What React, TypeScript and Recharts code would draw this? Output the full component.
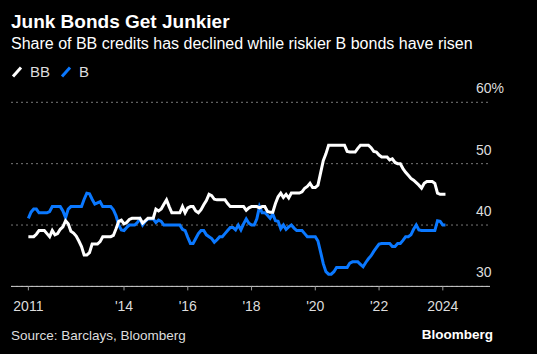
import React from "react";
import { LineChart, Line, XAxis, YAxis, CartesianGrid } from "recharts";

// Monthly share (%) of the high-yield index, Jan 2011 onward
const START_YEAR = 2011;
const bbShare = [
  38.1, 38.1, 38.1, 38.5, 39.1, 39.1, 39.1, 38.6, 38.1, 39.1,
  38.4, 38.6, 39.3, 39.7, 40.7, 40.2, 39.0, 38.7, 38.2, 37.4,
  36.5, 35.1, 35.1, 35.5, 36.9, 36.9, 36.9, 37.3, 38.1, 38.1,
  38.1, 38.1, 38.3, 39.4, 40.6, 40.8, 40.2, 40.4, 40.9, 41.1,
  41.1, 41.1, 41.1, 40.3, 40.7, 41.1, 41.1, 41.1, 42.6, 42.3,
  42.6, 43.4, 44.1, 43.0, 42.0, 42.0, 42.0, 42.0, 43.0, 42.0,
  42.8, 43.0, 43.0, 42.3, 42.0, 42.5, 43.3, 44.0, 45.0, 44.8,
  44.2, 44.1, 44.1, 44.1, 44.1, 43.5, 43.0, 43.0, 43.0, 43.0,
  43.0, 43.0, 42.4, 42.8, 43.0, 43.0, 43.0, 42.8, 43.0, 43.0,
  42.2, 42.1, 42.1, 43.5, 44.6, 45.2, 44.5, 45.0, 44.4, 45.2,
  45.2, 45.2, 45.2, 45.4, 46.0, 46.3, 46.8, 46.1, 46.1, 46.5,
  48.5, 50.5, 51.6, 53.0, 53.0, 53.0, 53.0, 53.0, 53.0, 53.0,
  52.0, 51.9, 51.9, 51.9, 52.5, 53.0, 53.0, 53.0, 53.0, 52.6,
  52.0, 51.9, 51.4, 51.1, 51.1, 51.1, 50.6, 50.8, 50.2, 50.0,
  50.0, 49.2, 48.6, 48.1, 47.6, 47.3, 46.9, 46.5, 46.0, 46.8,
  47.1, 47.1, 47.1, 46.8, 45.2, 45.0, 45.0, 45.0,
];
const bShare = [
  41.1, 42.1, 42.6, 42.6, 42.0, 42.0, 42.0, 42.0, 42.2, 43.0,
  43.0, 43.0, 43.0, 42.3, 41.2, 42.6, 43.0, 43.0, 43.0, 43.0,
  43.0, 44.2, 45.2, 45.1, 44.2, 43.4, 43.6, 43.8, 43.0, 43.0,
  43.0, 43.0, 42.5, 41.5, 40.0, 39.2, 39.1, 39.6, 40.0, 40.0,
  40.0, 40.4, 41.0, 40.0, 40.6, 41.0, 41.0, 41.0, 40.4, 40.8,
  40.6, 40.0, 40.0, 40.0, 40.0, 40.0, 40.0, 40.0, 39.3, 39.1,
  38.0, 37.0, 37.0, 37.8, 38.6, 39.1, 39.1, 38.4, 38.1, 37.8,
  37.2, 37.6, 38.1, 38.1, 38.6, 39.1, 39.6, 39.6, 39.2, 40.0,
  39.2, 40.2, 41.0, 40.3, 40.0, 40.0, 41.0, 43.0, 42.0, 42.0,
  41.6, 41.1, 41.8, 40.7, 40.6, 39.4, 40.0, 39.3, 39.7, 40.0,
  39.5, 39.1, 39.1, 39.1, 38.6, 38.1, 38.1, 38.1, 38.1, 37.4,
  35.6, 33.7, 32.4, 32.0, 32.0, 32.4, 33.1, 33.1, 33.1, 33.1,
  33.1, 33.8, 34.0, 34.0, 34.0, 33.6, 33.2, 33.9, 34.5, 35.0,
  35.7, 36.3, 36.9, 37.0, 37.0, 37.0, 37.0, 36.5, 36.5, 37.0,
  37.0, 37.5, 38.1, 38.1, 38.4, 39.3, 40.0, 39.2, 39.1, 39.1,
  39.1, 39.1, 39.1, 39.1, 40.7, 40.6, 40.0, 40.0,
];
const xTicks = [2011, 2014, 2016, 2018, 2020, 2022, 2024];
const yTicks = [30, 40, 50, 60];

const data = bbShare.map((v, i) => ({
  t: START_YEAR + i / 12,
  bb: v,
  b: bShare[i],
}));

const FONT = "'Liberation Sans', Arial, sans-serif";
const BLUE = "#0a78ff";

const fmtYear = (y: number) =>
  y === 2011 || y === 2024 ? String(y) : "'" + String(y).slice(2);

const YTick = (props: any) => {
  const { y, payload, viewBox } = props;
  // anchor labels just inside the plot's right edge, above each gridline
  const right = props.x;
  return (
    <text
      x={right - 14}
      y={y - 9}
      fill="#dddddd"
      fontSize={14}
      fontFamily={FONT}
      textAnchor="start"
    >
      {payload.value === 60 ? "60%" : payload.value}
    </text>
  );
};

const LegendIcon = ({ color }: { color: string }) => (
  <svg width={12} height={12} style={{ display: "block" }}>
    <line x1={2} y1={10.5} x2={10} y2={1.5} stroke={color} strokeWidth={3} />
  </svg>
);

export default function App() {
  return (
    <div
      style={{
        position: "absolute",
        left: 0,
        top: 0,
        width: 537,
        height: 354,
        background: "#000",
        fontFamily: FONT,
        overflow: "hidden",
      }}
    >
      <div
        style={{
          position: "absolute",
          left: 11,
          top: 12,
          fontSize: 19,
          fontWeight: 700,
          color: "#fff",
          lineHeight: "20px",
          whiteSpace: "nowrap",
        }}
      >
        Junk Bonds Get Junkier
      </div>
      <div
        style={{
          position: "absolute",
          left: 11,
          top: 35,
          fontSize: 16,
          color: "#fff",
          lineHeight: "18px",
          whiteSpace: "nowrap",
        }}
      >
        Share of BB credits has declined while riskier B bonds have risen
      </div>
      <div
        style={{
          position: "absolute",
          left: 11,
          top: 63,
          display: "flex",
          alignItems: "center",
          fontSize: 15,
          color: "#dddddd",
          lineHeight: "18px",
        }}
      >
        <LegendIcon color="#fff" />
        <span style={{ marginLeft: 7, marginRight: 10 }}>BB</span>
        <LegendIcon color={BLUE} />
        <span style={{ marginLeft: 7 }}>B</span>
      </div>

      <div style={{ position: "absolute", left: 0, top: 0 }}>
        <LineChart
          width={537}
          height={354}
          data={data}
          margin={{ top: 102.3, right: 7, bottom: 37.6, left: 11 }}
        >
          <CartesianGrid
            vertical={false}
            stroke="#777"
            strokeDasharray="2 3"
          />
          <XAxis
            dataKey="t"
            type="number"
            domain={[2010.455, 2025.48]}
            ticks={xTicks}
            tickFormatter={fmtYear}
            height={30}
            axisLine={{ stroke: "#cccccc", strokeWidth: 1 }}
            tickLine={{ stroke: "#999999" }}
            tickSize={4}
            tickMargin={11}
            tick={{ fill: "#dddddd", fontSize: 14, fontFamily: FONT }}
            allowDataOverflow
          />
          <YAxis
            orientation="right"
            width={40}
            domain={[30, 60]}
            ticks={yTicks}
            interval={0}
            axisLine={false}
            tickLine={false}
            tickSize={0}
            tickMargin={0}
            tick={<YTick />}
            allowDataOverflow
          />
          <Line
            dataKey="b"
            stroke={BLUE}
            strokeWidth={3}
            dot={false}
            type="linear"
            isAnimationActive={false}
          />
          <Line
            dataKey="bb"
            stroke="#ffffff"
            strokeWidth={3}
            dot={false}
            type="linear"
            isAnimationActive={false}
          />
        </LineChart>
      </div>

      <div
        style={{
          position: "absolute",
          left: 11,
          top: 327,
          fontSize: 13.5,
          color: "#dddddd",
          lineHeight: "18px",
          whiteSpace: "nowrap",
        }}
      >
        Source: Barclays, Bloomberg
      </div>
      <div
        style={{
          position: "absolute",
          right: 44,
          top: 326,
          fontSize: 13.5,
          fontWeight: 700,
          color: "#fff",
          lineHeight: "18px",
          whiteSpace: "nowrap",
        }}
      >
        Bloomberg
      </div>
    </div>
  );
}
